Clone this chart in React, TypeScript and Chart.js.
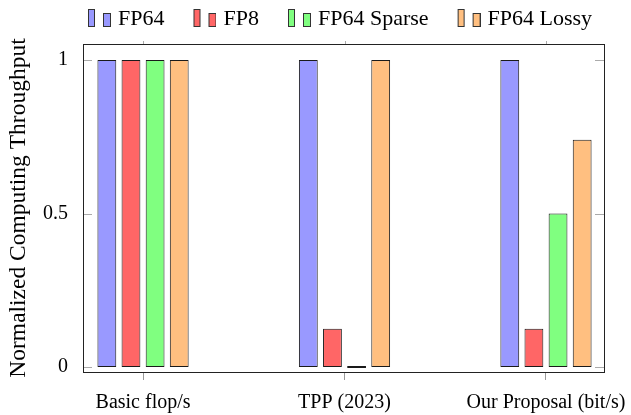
import React, { useEffect, useRef } from 'react';
import { Chart, registerables } from 'chart.js';

Chart.register(...registerables);

// ---- data ----
const CATEGORIES = ['Basic flop/s', 'TPP (2023)', 'Our Proposal (bit/s)'];
const SERIES_LABELS = ['FP64', 'FP8', 'FP64 Sparse', 'FP64 Lossy'];
const FP64 = [1, 1, 1];
const FP8 = [1, 0.125, 0.125];
const FP64_SPARSE = [1, 0, 0.5];
const FP64_LOSSY = [1, 1, 0.74];
const X_TICKS = [0, 1, 2];
const Y_TICKS = [0, 0.5, 1];
const Y_TICK_LABELS = ['0', '0.5', '1'];
const Y_TITLE = 'Normalized Computing Throughput';

// ---- style ----
const FONT = "'Liberation Serif', 'DejaVu Serif', serif";
const FILLS = ['#9999ff', '#ff6666', '#80ff80', '#ffbf80'];
const EDGE = '#1a1a1a';
const LEGEND_H = 44;
const LEGEND_PAD = 8;
const LEGEND_CENTER = 340;

function legendIcon(fill: string) {
  const c = document.createElement('canvas');
  c.width = 48;
  c.height = 22;
  const g = c.getContext('2d') as CanvasRenderingContext2D;
  g.fillStyle = fill;
  g.strokeStyle = '#333333';
  g.lineWidth = 1;
  g.fillRect(25, 1, 7, 18);
  g.strokeRect(25.5, 1.5, 6, 17);
  g.fillRect(40, 5, 8, 14);
  g.strokeRect(40.5, 5.5, 7, 13);
  return c;
}

const legendLayout = {
  id: 'legendLayout',
  afterInit(chart: any) {
    const lg = chart.legend;
    if (!lg) return;
    const orig = lg.fit;
    lg.fit = function () {
      orig.call(this);
      this.height = LEGEND_H;
    };
  },
  afterLayout(chart: any) {
    const lg = chart.legend;
    if (!lg || !lg.lineWidths) return;
    const L = lg.lineWidths[0];
    const x0 = Math.round(LEGEND_CENTER - (21 + L - LEGEND_PAD) / 2);
    lg.left = 0;
    lg.right = 2 * x0 - LEGEND_PAD + L;
  },
};

const framePlugin = {
  id: 'frame',
  afterDatasetsDraw(chart: any) {
    const { ctx, chartArea: a, scales } = chart;
    const xs = scales.x;
    const ys = scales.y;
    ctx.save();
    ctx.strokeStyle = '#aaaaaa';
    ctx.lineWidth = 1;
    ctx.beginPath();
    for (const v of Y_TICKS) {
      const py = Math.round(ys.getPixelForValue(v)) + 0.5;
      ctx.moveTo(a.left, py);
      ctx.lineTo(a.left + 9, py);
      ctx.moveTo(a.right - 9, py);
      ctx.lineTo(a.right, py);
    }
    for (const v of X_TICKS) {
      const px = Math.round(xs.getPixelForValue(v)) + 0.5;
      ctx.moveTo(px, a.top);
      ctx.lineTo(px, a.top - 3);
    }
    ctx.stroke();
    ctx.strokeStyle = '#222222';
    ctx.lineWidth = 1;
    ctx.strokeRect(a.left + 0.5, a.top + 0.5, a.right - a.left, a.bottom - a.top);
    ctx.restore();
  },
};

export default function App() {
  const ref = useRef<HTMLCanvasElement | null>(null);

  useEffect(() => {
    if (!ref.current) return;
    const icons = FILLS.map((f) => legendIcon(f));
    const seriesValues = [FP64, FP8, FP64_SPARSE, FP64_LOSSY];
    const datasets = SERIES_LABELS.map((label, i) => ({
      label,
      data: seriesValues[i].map((v, j) => ({ x: X_TICKS[j], y: v })),
      backgroundColor: FILLS[i],
      borderColor: EDGE,
      borderWidth: 1,
      borderSkipped: false as const,
      minBarLength: i === 2 ? 2 : 0,
      barPercentage: 0.78,
      categoryPercentage: 0.479,
    }));

    const chart = new Chart(ref.current, {
      type: 'bar',
      data: { datasets },
      plugins: [legendLayout, framePlugin],
      options: {
        responsive: false,
        animation: false,
        events: [],
        layout: { padding: { left: 0, right: 27, top: 0, bottom: 0 } },
        plugins: {
          tooltip: { enabled: false },
          legend: {
            display: true,
            position: 'top',
            labels: {
              usePointStyle: true,
              pointStyleWidth: 40,
              padding: LEGEND_PAD,
              color: '#000000',
              font: { family: FONT, size: 22 },
              generateLabels: (c: any) => {
                const items = (Chart.defaults.plugins.legend.labels as any).generateLabels(c);
                return items.map((it: any, i: number) => ({ ...it, pointStyle: icons[i] }));
              },
            },
          },
        },
        scales: {
          x: {
            type: 'linear',
            offset: false,
            min: -0.298,
            max: 2.288,
            afterBuildTicks: (s: any) => {
              s.ticks = X_TICKS.map((v) => ({ value: v }));
            },
            afterFit: (s: any) => {
              s.height = 43;
              s.paddingLeft = 0;
              s.paddingRight = 0;
            },
            grid: {
              display: true,
              offset: false,
              drawOnChartArea: false,
              drawTicks: true,
              tickLength: 8,
              color: '#999999',
              lineWidth: 1,
            },
            border: { display: false },
            ticks: {
              padding: 11,
              color: '#000000',
              maxRotation: 0,
              autoSkip: false,
              font: { family: FONT, size: 20 },
              callback: (v: any) => CATEGORIES[v as number] ?? '',
            },
          },
          y: {
            type: 'linear',
            min: -0.016,
            max: 1.052,
            afterBuildTicks: (s: any) => {
              s.ticks = Y_TICKS.map((v) => ({ value: v }));
            },
            afterFit: (s: any) => {
              s.width = 83;
            },
            grid: { display: false },
            border: { display: false },
            ticks: {
              padding: 7,
              color: '#000000',
              font: { family: FONT, size: 20 },
              callback: (_v: any, i: number) => Y_TICK_LABELS[i],
            },
            title: {
              display: true,
              text: Y_TITLE,
              color: '#000000',
              font: { family: FONT, size: 23.5 },
              padding: { top: 5, bottom: 0 },
            },
          },
        },
      } as any,
    });
    return () => chart.destroy();
  }, []);

  return (
    <div style={{ position: 'absolute', left: 0, top: 0, width: 631, height: 415, background: '#ffffff' }}>
      <canvas ref={ref} width={631} height={415} style={{ display: 'block', width: 631, height: 415 }} />
    </div>
  );
}
